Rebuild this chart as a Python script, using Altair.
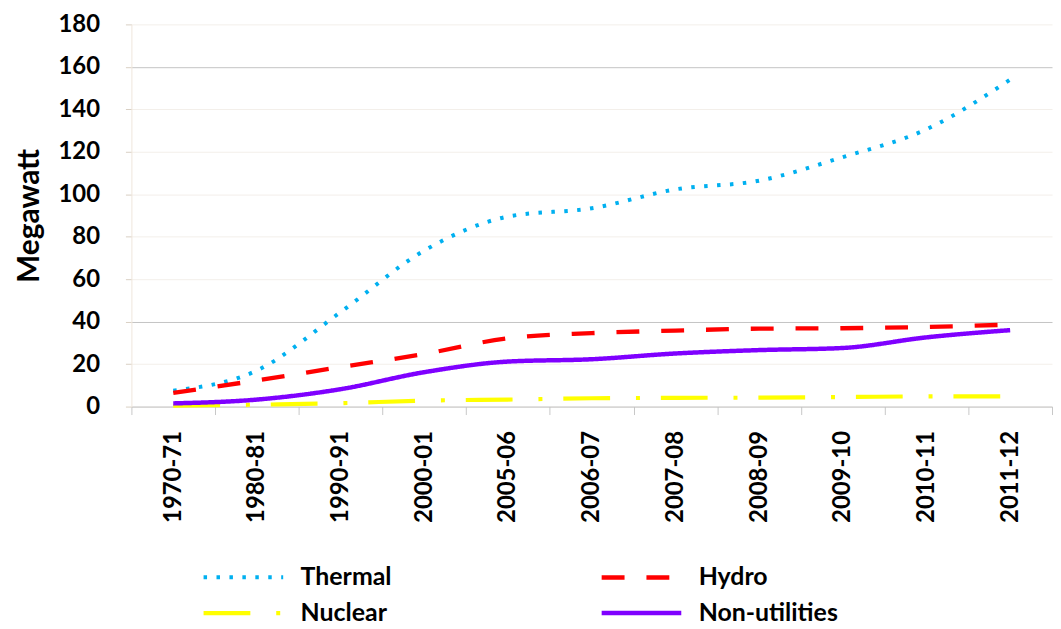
import altair as alt
import pandas as pd

years = ["1970-71", "1980-81", "1990-91", "2000-01", "2005-06", "2006-07",
         "2007-08", "2008-09", "2009-10", "2010-11", "2011-12"]
thermal = [7.5, 17.0, 44.5, 73.5, 89.5, 93.4, 102.3, 106.4, 117.5, 130.6, 154.0]
hydro = [6.5, 12.3, 18.6, 24.8, 32.2, 34.6, 35.8, 36.7, 36.9, 37.5, 38.6]
nuclear = [0.4, 0.9, 1.6, 2.8, 3.3, 3.9, 4.1, 4.2, 4.5, 4.8, 4.8]
non_utilities = [1.5, 3.3, 8.2, 16.2, 21.2, 22.3, 25.0, 26.6, 27.6, 32.6, 36.0]

# legend order (filled column by column): Thermal / Nuclear | Hydro / Non-utilities
series = ["Thermal", "Nuclear", "Hydro", "Non-utilities"]
colors = ["#00B0F0", "#FFFF00", "#FF0000", "#7F00FF"]
dashes = [[3.5, 9.5], [47, 26, 4, 21], [23, 22], [1, 0]]
widths = [4, 4.5, 5, 4]

rows = []
for name, vals in zip(["Thermal", "Hydro", "Nuclear", "Non-utilities"],
                      [thermal, hydro, nuclear, non_utilities]):
    for y, v in zip(years, vals):
        rows.append({"year": y, "value": v, "series": name})
df = pd.DataFrame(rows)

FONT = "Lato"

legend = alt.Legend(
    orient="none", legendX=90, legendY=533, columns=2, title=None,
    symbolType="M-2,0H2", symbolSize=1600, symbolStrokeWidth=4,
    labelFont=FONT, labelFontSize=25, labelFontWeight="bold", labelColor="black",
    labelOffset=35, columnPadding=201, rowPadding=-2,
)

chart = alt.Chart(df).mark_line(interpolate="monotone", strokeCap="butt").encode(
    x=alt.X(
        "year:N", sort=years, bandPosition=0.5,
        scale=alt.Scale(type="band", paddingInner=0, paddingOuter=0),
        axis=alt.Axis(
            title=None, labelAngle=270, labelAlign="right", labelBaseline="middle",
            labelPadding=16, labelFont=FONT, labelFontSize=24, labelFontWeight="bold",
            labelColor="black", tickBand="extent", tickColor="#c8c8c8", tickSize=8,
            domainColor="#c0c0c0", grid=False,
        ),
    ),
    y=alt.Y(
        "value:Q", scale=alt.Scale(domain=[0, 180]),
        axis=alt.Axis(
            values=list(range(0, 181, 20)), title="Megawatt",
            titleFont=FONT, titleFontSize=30, titleFontWeight="bold", titleColor="black",
            titlePadding=14, labelFont=FONT, labelFontSize=24, labelFontWeight="bold",
            labelColor="black", labelPadding=26, tickSize=6, tickColor="#d9d0c4",
            domainColor="#efe6dc",
            gridColor={"condition": {"test": "datum.value == 40 || datum.value == 160",
                                     "value": "#c4c4c4"},
                       "value": "#f3efea"},
        ),
    ),
    color=alt.Color("series:N", sort=series,
                    scale=alt.Scale(domain=series, range=colors), legend=legend),
    strokeDash=alt.StrokeDash("series:N", sort=series,
                              scale=alt.Scale(domain=series, range=dashes), legend=legend),
    strokeWidth=alt.StrokeWidth("series:N", sort=series,
                                scale=alt.Scale(domain=series, range=widths), legend=None),
).properties(
    width=925, height=384,
    padding={"left": 6, "top": 3, "right": 0, "bottom": 0},
).configure_view(stroke=None)

chart.save("out.html", embed_options={"renderer": "svg", "actions": False})
